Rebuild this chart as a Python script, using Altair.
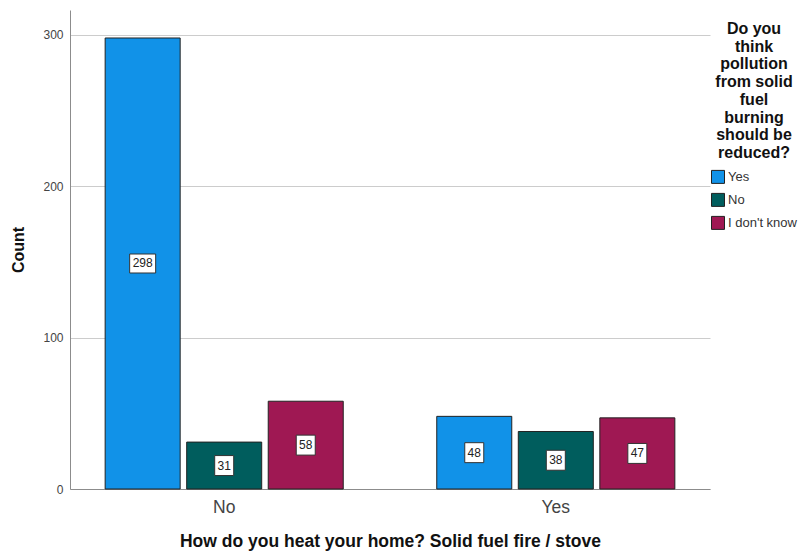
import altair as alt
import pandas as pd

heat = ["No", "No", "No", "Yes", "Yes", "Yes"]
response = ["Yes", "No", "I don't know", "Yes", "No", "I don't know"]
counts = [298, 31, 58, 48, 38, 47]
resp_order = ["Yes", "No", "I don't know"]
colors = ["#1192e8", "#005d5d", "#9f1853"]
y_ticks = [0, 100, 200, 300]
legend_title = ["Do you", "think", "pollution", "from solid", "fuel", "burning", "should be", "reduced?"]

df = pd.DataFrame({"heat": heat, "resp": response, "count": counts})

FONT = "Liberation Sans"

x = alt.X("heat:N", sort=["No", "Yes"],
          title="How do you heat your home? Solid fuel fire / stove",
          scale=alt.Scale(paddingInner=0.282, paddingOuter=0.106),
          axis=alt.Axis(labelAngle=0, labelFontSize=17.5, labelColor="#444444",
                        labelPadding=9, ticks=False, domainColor="#8c8c8c",
                        titleFontSize=17.5, titleFontWeight="bold", titleColor="#111111",
                        titlePadding=17, labelFont=FONT, titleFont=FONT))
xoff = alt.XOffset("resp:N", sort=resp_order,
                   scale=alt.Scale(paddingInner=0.08, paddingOuter=0))
y = alt.Y("count:Q", title="Count",
          scale=alt.Scale(domain=[0, 316.5], nice=False),
          axis=alt.Axis(values=y_ticks, labelFontSize=12, labelColor="#444444",
                        labelPadding=7, ticks=False, domainColor="#8c8c8c",
                        gridColor="#cccccc", titleFontSize=16, titleFontWeight="bold",
                        titleColor="#111111", titlePadding=16,
                        labelFont=FONT, titleFont=FONT))

bars = alt.Chart(df).mark_bar(stroke="#222222", strokeWidth=1).encode(
    x=x, xOffset=xoff, y=y,
    color=alt.Color("resp:N", sort=resp_order,
                    scale=alt.Scale(domain=resp_order, range=colors),
                    legend=alt.Legend(title=legend_title, orient="none",
                                      legendX=641, legendY=11,
                                      titleAlign="center", titleAnchor="middle",
                                      titleFontSize=16, titleFontWeight="bold",
                                      titleLineHeight=17.7, titleColor="#111111",
                                      titleFont=FONT, titlePadding=9,
                                      labelFontSize=13, labelColor="#333333",
                                      labelFont=FONT, labelOffset=3,
                                      symbolType="square", symbolSize=169,
                                      symbolStrokeColor="#222222", symbolStrokeWidth=1,
                                      rowPadding=5, symbolOpacity=1))
)

base = alt.Chart(df).transform_calculate(
    mid="datum.count / 2",
    big="datum.count >= 100"
)

boxes = base.mark_point(filled=True, fill="white", stroke="#333333", strokeWidth=1,
                        opacity=1).encode(
    x=alt.X("heat:N", sort=["No", "Yes"]), xOffset=xoff,
    y=alt.Y("mid:Q"),
    shape=alt.condition("datum.big",
                        alt.value("M-1,-0.73L1,-0.73L1,0.73L-1,0.73Z"),
                        alt.value("M-1,-1.05L1,-1.05L1,1.05L-1,1.05Z")),
    size=alt.condition("datum.big", alt.value(676), alt.value(361)),
)

labels = base.mark_text(fontSize=12, color="#222222", font=FONT, baseline="middle").encode(
    x=alt.X("heat:N", sort=["No", "Yes"]), xOffset=xoff,
    y=alt.Y("mid:Q"),
    text=alt.Text("count:Q"),
)

chart = alt.layer(bars, boxes, labels).properties(
    width=640, height=479,
    autosize=alt.AutoSizeParams(type="none"),
    padding={"left": 62, "top": 2, "right": 91, "bottom": 68},
).configure_view(stroke=None).configure_axisX(grid=False)

chart.save("out.html", embed_options={"renderer": "svg", "actions": False})
